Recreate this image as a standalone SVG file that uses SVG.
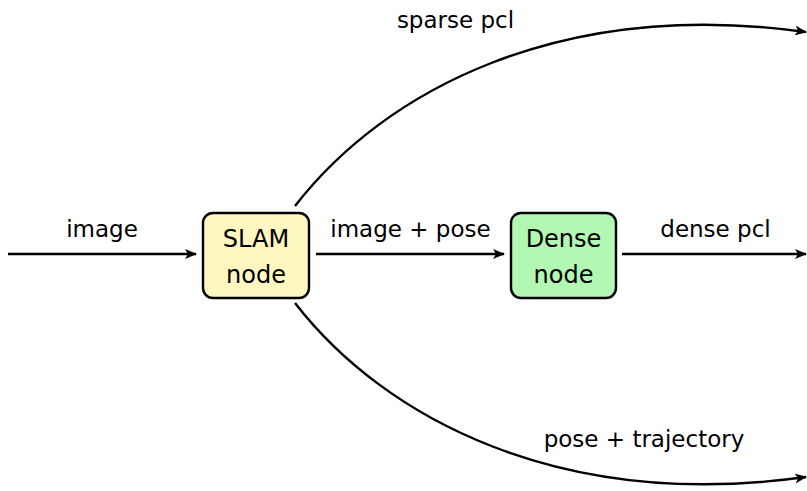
<svg xmlns="http://www.w3.org/2000/svg" width="807" height="491" viewBox="0 0 807 491">
<defs>
<marker id="arr" viewBox="0 0 12 10" refX="11" refY="5" markerWidth="12" markerHeight="10" markerUnits="userSpaceOnUse" orient="auto">
<path d="M0,0 L12,5 L0,10 L3,5 Z" fill="#000"/>
</marker>
</defs>
<style>
.box{stroke:#000;stroke-width:2.4}
.lbl{font-family:"DejaVu Sans","Liberation Sans",sans-serif;font-size:23px;fill:#000;text-anchor:middle}
.ntx{font-family:"DejaVu Sans","Liberation Sans",sans-serif;font-size:24px;fill:#000;text-anchor:middle}
.con{fill:none;stroke:#000;stroke-width:2.4;marker-end:url(#arr)}
</style>
<rect width="807" height="491" fill="#fff"/>
<g id="connectors">
<path class="con" d="M8,254 L196,254"/>
<path class="con" d="M316,254 L504,254"/>
<path class="con" d="M622,254 L806,254"/>
<path class="con" d="M295,206 C385,90 560,-2 806,32"/>
<path class="con" d="M295,303 C385,419 560,511 806,477"/>
<text class="lbl" x="102" y="237">image</text>
<text class="lbl" x="410.5" y="237">image + pose</text>
<text class="lbl" x="715.5" y="237">dense pcl</text>
<text class="lbl" x="455.5" y="28">sparse pcl</text>
<text class="lbl" x="644" y="447">pose + trajectory</text>
</g>
<g id="slam">
<rect class="box" x="203" y="213" width="106" height="85" rx="10" fill="#fff7bf"/>
<text class="ntx" x="256" y="247">SLAM</text>
<text class="ntx" x="256" y="283">node</text>
</g>
<g id="dense">
<rect class="box" x="511" y="213" width="105" height="85" rx="10" fill="#b2f7b2"/>
<text class="ntx" x="563.5" y="247">Dense</text>
<text class="ntx" x="563.5" y="283">node</text>
</g>
</svg>
